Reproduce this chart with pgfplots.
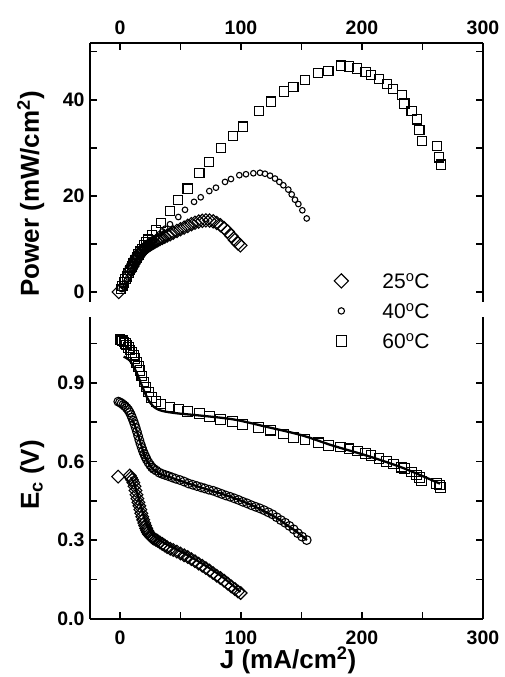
\documentclass[border=0pt]{standalone}
\usepackage{fontspec}
\setmainfont{Liberation Sans}
\usepackage{pgfplots}
\pgfplotsset{compat=1.18}
\pgfplotstableread{
J P
-1 0
8 4.3
9 4.8
10 5.3
11 5.8
12 6.3
12.8 6.7
13.6 7.0
14.4 7.3
15.2 7.6
16 7.9
16.8 8.2
17.6 8.4
18.4 8.6
19.2 8.8
20 9.0
20.8 9.15
21.6 9.3
22.4 9.45
23.2 9.6
24 9.75
25 9.9
26 10.05
27 10.2
28 10.35
29.5 10.55
31 10.75
33 11.0
35 11.25
37 11.5
39 11.75
41.5 12.0
44 12.35
47 12.7
50 13.05
53 13.4
56 13.75
59 14.1
62 14.4
65 14.65
68 14.8
71 14.9
74 14.85
77 14.7
80 14.35
83 13.9
86 13.3
89 12.6
92 11.7
95 10.8
97.5 10.1
99.5 9.7
}\pA
\pgfplotstableread{
J P
1.4 0.6
2.8 1.2
4.1 1.8
5.5 2.4
6.9 3.0
8 3.5
9.1 4.0
10 4.4
11 4.8
12 5.2
13 5.6
14 6.0
15 6.4
16 6.8
17 7.2
18 7.6
19 7.9
20 8.2
21 8.5
22 8.8
23.5 9.3
25 9.8
26.5 10.2
28 10.7
30 11.3
32.5 12.0
35 12.6
37.5 13.2
41.3 14.1
48.2 15.6
53.7 17.1
61.2 18.75
66.7 19.7
73.8 21.0
79.3 21.7
86.8 22.9
91.7 23.5
98.6 24.3
104.1 24.5
110.2 24.7
115.7 24.8
119.8 24.6
124 24.2
128.1 23.6
131.7 22.9
135 22.2
139.1 21.3
141.9 20.3
144.6 19.2
147.4 18.3
150.7 17.0
154.3 15.3
}\pB
\pgfplotstableread{
J P
0.8 0.6
2 1.2
3.3 2.0
4.5 2.7
5.5 3.2
7 3.9
8.3 4.6
9.7 5.3
11 5.9
12.4 6.6
13.8 7.2
15.2 7.8
16.5 8.4
18 9.0
19.8 9.7
21.5 10.3
23.4 10.9
26.2 11.8
29.8 12.8
33.9 14.4
41.3 16.8
48.2 19.1
55.9 21.5
65.6 24.8
73.8 27.1
83.2 29.9
93.1 32.4
101.4 34.4
114.6 37.6
124.5 39.6
135.3 41.7
143.3 42.7
152.9 44.1
163.9 45.6
172.2 46.0
182.4 47.1
189.3 46.9
196.1 46.5
203 45.8
207.4 45.1
214 44.3
220.4 43.3
225.9 42.3
232.8 41.0
235 39.2
241 37.6
245.2 35.9
247.4 33.7
249.3 31.4
261.7 30.3
263.9 28.0
265 26.5
}\pC
\pgfplotstableread{
J E
-1.5 0.542
8 0.546
9 0.538
10 0.530
11 0.519
12 0.505
12.8 0.489
13.6 0.473
14.4 0.458
15.2 0.444
16 0.430
16.8 0.416
17.6 0.402
18.4 0.389
19.2 0.377
20 0.365
20.8 0.355
21.6 0.345
22.4 0.336
23.2 0.329
24 0.322
25 0.317
26 0.312
27 0.308
28 0.305
29.5 0.301
31 0.297
33 0.291
35 0.285
37 0.279
39 0.273
41.5 0.267
44 0.262
47 0.256
50 0.249
53 0.242
56 0.235
59 0.227
62 0.219
65 0.210
68 0.202
71 0.193
74 0.184
77 0.174
80 0.164
83 0.155
86 0.145
89 0.134
92 0.123
95 0.113
97.5 0.104
99.7 0.098
}\eA
\pgfplotstableread{
J E
-1.4 0.828
0 0.825
1.4 0.821
2.8 0.816
4.1 0.811
5.5 0.804
6.9 0.796
8 0.787
9.1 0.777
10 0.767
11 0.755
12 0.742
13 0.728
14 0.713
15 0.697
16 0.681
17 0.666
18 0.652
19 0.639
20 0.628
21 0.618
22 0.608
23.5 0.596
25 0.586
26.5 0.577
28 0.571
30 0.565
32.5 0.557
35 0.552
37.5 0.548
40 0.544
43 0.539
46 0.534
49.5 0.529
53 0.523
56.5 0.516
60 0.511
63.5 0.506
67 0.501
70 0.497
73.5 0.492
77 0.488
80.5 0.482
84 0.476
87.5 0.470
91 0.465
94.5 0.459
98 0.453
101.5 0.446
105 0.440
108.5 0.433
112 0.427
115.5 0.421
119 0.414
122.5 0.406
126 0.398
129.5 0.387
133 0.376
136.5 0.366
140 0.354
143.5 0.341
147 0.326
150.5 0.313
154.3 0.300
}\eB
\pgfplotstableread{
J E
0 1.065
0.8 1.063
2 1.060
3.3 1.056
4.5 1.050
5.5 1.044
7 1.035
8.3 1.025
9.7 1.015
11 1.005
12.4 0.993
13.8 0.978
15.2 0.962
16.5 0.946
18 0.926
19.8 0.903
21.5 0.884
23.4 0.865
26.2 0.843
29.8 0.828
33.9 0.819
41.3 0.808
48.2 0.800
55.9 0.790
65.6 0.782
73.8 0.772
83.2 0.760
93.1 0.752
101.4 0.740
114.6 0.730
124.5 0.719
135.3 0.704
143.3 0.692
152.9 0.683
163.9 0.671
172.2 0.660
182.4 0.655
189.3 0.648
196.1 0.640
203 0.630
207.4 0.623
214 0.612
220.4 0.600
225.9 0.590
232.8 0.578
235 0.572
241 0.560
245.2 0.548
247.4 0.538
249.3 0.525
261.7 0.516
263.9 0.510
265 0.501
}\eC
\pgfplotstableread{
J E
9 0.540
12 0.510
15 0.465
18 0.415
21 0.370
24 0.340
27 0.320
31 0.305
36 0.290
45 0.268
55 0.245
65 0.218
75 0.190
85 0.158
95 0.120
99.5 0.102
}\fA
\pgfplotstableread{
J E
10 0.760
12.4 0.735
15 0.700
18 0.655
21 0.615
24 0.590
28 0.568
34 0.550
43 0.537
55 0.518
70 0.496
85 0.475
100 0.450
115 0.420
130 0.383
138 0.357
145 0.335
152 0.310
154.5 0.300
}\fB
\pgfplotstableread{
J E
3 1.000
8 0.985
12 0.955
15 0.925
18 0.890
21 0.857
24 0.830
28 0.808
33 0.795
40 0.788
50 0.782
66 0.775
94 0.760
121 0.732
150 0.700
176 0.660
204 0.622
231 0.580
248 0.548
264.5 0.515
}\fC
\begin{document}
\begin{tikzpicture}
\useasboundingbox (0,0) rectangle (504pt,677pt);
\pgfplotsset{
  common/.style={
    scale only axis, width=393pt,
    xmin=-24.8, xmax=300,
    xtick={0,100,200,300}, minor xtick={50,150,250},
    tick align=inside, major tick length=7pt, minor tick length=7pt,
    axis line style={line width=1.8pt},
    every tick/.style={line width=1.6pt, black},
    tick label style={font=\fontsize{19.5}{22}\selectfont\bfseries},
    /pgf/number format/assume math mode=true,
    label style={font=\fontsize{26}{30}\selectfont\bfseries},
    yticklabel style={xshift=-2pt},
  },
  mk/.style={only marks, mark options={fill=white, line width=1.1pt, solid}},
}
% lower panel
\begin{axis}[common,
  at={(90pt,58.3pt)}, anchor=south west, height=302pt,
  axis x line*=bottom,
  ymin=0, ymax=1.152,
  ytick={0,0.3,0.6,0.9}, minor ytick={0.15,0.45,0.75,1.05},
  yticklabel style={/pgf/number format/.cd, fixed, fixed zerofill, precision=1},
  xticklabel style={yshift=-9pt},
  xlabel={J (mA/cm\textsuperscript{2})},
  ylabel={E\textsubscript{c} (V)},
  xlabel style={at={(axis description cs:0.504,-0.164)}, anchor=base},
  ylabel style={at={(axis description cs:-0.13,0.476)}, anchor=base},
]
\addplot[mk, mark=square, mark size=4.5pt, mark options={rotate=45, fill=white, line width=1.1pt}] table[x=J,y=E] {\eA};
\addplot[mk, mark=o, mark size=4.4pt] table[x=J,y=E] {\eB};
\addplot[mk, mark=square, mark size=4.8pt] table[x=J,y=E] {\eC};
\addplot[black, line width=2.3pt, smooth] table[x=J,y=E] {\fA};
\addplot[black, line width=2.3pt, smooth] table[x=J,y=E] {\fB};
\addplot[black, line width=2.3pt, smooth] table[x=J,y=E] {\fC};
\end{axis}
% upper panel
\begin{axis}[common,
  at={(90pt,375pt)}, anchor=south west, height=259pt,
  axis x line*=top,
  ymin=-2.08, ymax=51.8,
  ytick={0,20,40}, minor ytick={10,30,50},
  xticklabel style={yshift=4.5pt},
  ylabel={Power (mW/cm\textsuperscript{2})},
  ylabel style={at={(axis description cs:-0.13,0.417)}, anchor=base},
  legend style={at={(axis description cs:0.621,0.113)}, anchor=north west,
    draw=none, fill=none, inner sep=0pt, row sep=14pt,
    font=\fontsize{21}{24}\selectfont,
    nodes={inner sep=0pt, text height=16pt, text depth=0pt},
    /tikz/every odd column/.append style={column sep=34pt}},
  legend cell align=left,
]
\addlegendimage{only marks, mark=square, mark size=5pt, mark options={rotate=45, fill=white, line width=1.1pt}}
\addlegendentry{25\textsuperscript{o}C}
\addlegendimage{only marks, mark=o, mark size=3.2pt, mark options={fill=white, line width=1.1pt}}
\addlegendentry{40\textsuperscript{o}C}
\addlegendimage{only marks, mark=square, mark size=5.2pt, mark options={fill=white, line width=1.1pt}}
\addlegendentry{60\textsuperscript{o}C}
\addplot[mk, forget plot, mark=square, mark size=4.7pt, mark options={rotate=45, fill=white, line width=1.1pt}] table[x=J,y=P] {\pA};
\addplot[mk, forget plot, mark=o, mark size=2.8pt] table[x=J,y=P] {\pB};
\addplot[mk, forget plot, mark=square, mark size=4.6pt] table[x=J,y=P] {\pC};
\end{axis}
\end{tikzpicture}
\end{document}
